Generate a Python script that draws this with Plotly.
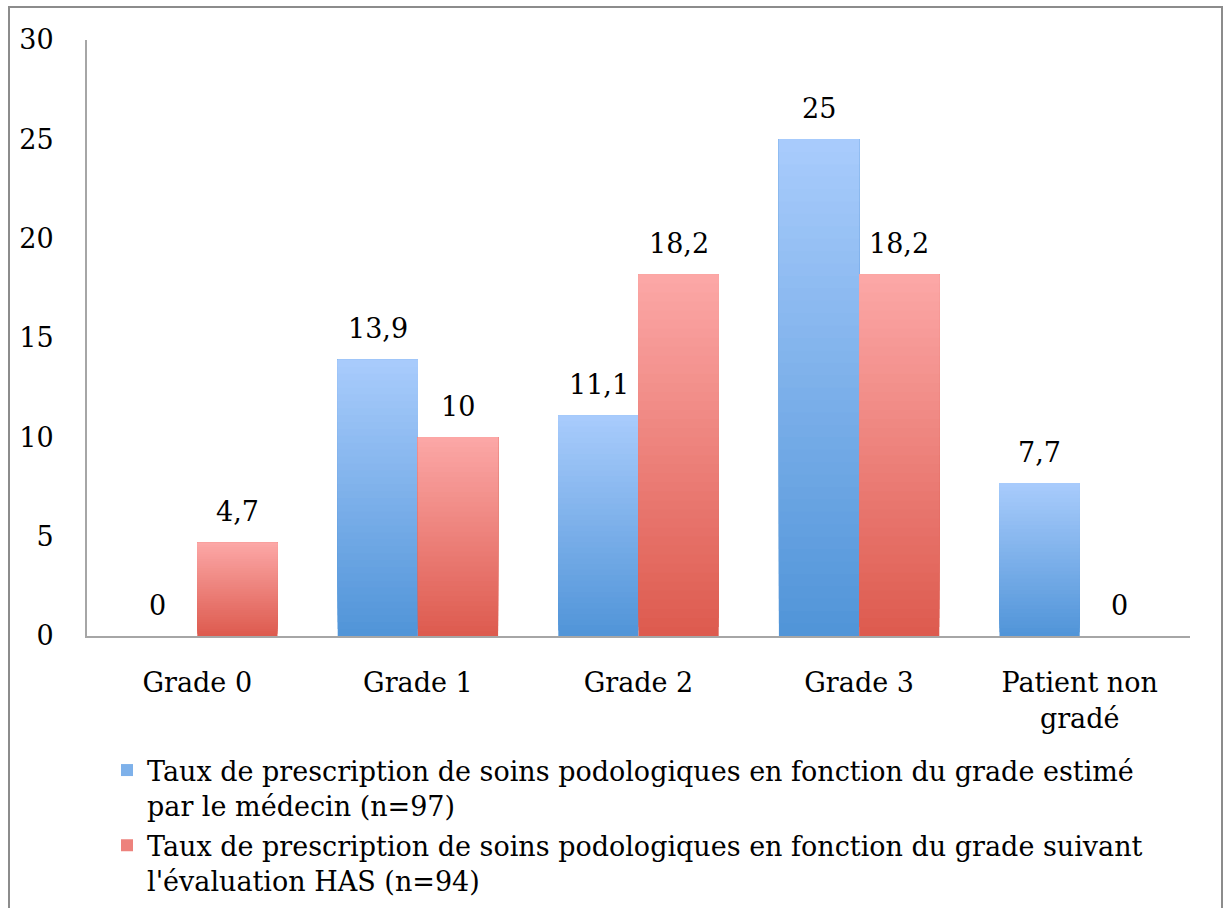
import plotly.graph_objects as go

categories = ["Grade 0", "Grade 1", "Grade 2", "Grade 3", "Patient non<br>gradé"]
medecin = [0, 13.9, 11.1, 25, 7.7]
has = [4.7, 10, 18.2, 18.2, 0]
series_names = [
    "Taux de prescription de soins podologiques en fonction du grade estimé<br>par le médecin (n=97)",
    "Taux de prescription de soins podologiques en fonction du grade suivant<br>l'évaluation HAS (n=94)",
]
y_ticks = [0, 5, 10, 15, 20, 25, 30]

FONT = "DejaVu Serif"
FS = 27
blue_top, blue_bot = (169, 204, 252), (80, 148, 216)
red_top, red_bot = (252, 168, 167), (221, 90, 78)
N = 40


def mix(c0, c1, t):
    return "rgb(%d,%d,%d)" % tuple(round(a + (b - a) * t) for a, b in zip(c0, c1))


def fmt(v):
    return f"{v:g}".replace(".", ",")


fig = go.Figure()
for s, (vals, top, bot, name) in enumerate([
    (medecin, blue_top, blue_bot, series_names[0]),
    (has, red_top, red_bot, series_names[1]),
]):
    for k in range(N):
        t = (k + 0.5) / N
        fig.add_trace(go.Bar(
            x=categories,
            y=[v * (N - k) / N for v in vals],
            base=[v * k / N for v in vals],
            offsetgroup=str(s),
            marker=dict(color=mix(bot, top, t), line=dict(width=0)),
            name=name,
            legendgroup=str(s),
            showlegend=(k == N // 2),
            legendrank=s,
            hoverinfo="skip",
        ))

annotations = []
for vals, shift in [(medecin, -40), (has, 40)]:
    for c, v in zip(categories, vals):
        annotations.append(dict(
            x=c, y=v, xref="x", yref="y", text=fmt(v), showarrow=False,
            xshift=shift, yshift=31, yanchor="middle",
            font=dict(family=FONT, size=FS, color="black"),
        ))

W, H = 1224, 908
L, T = 87, 40
R = W - 1190
B = H - 636
pw, ph = W - L - R, H - T - B
y0_px = 636

fig.update_layout(
    width=W, height=H,
    margin=dict(l=L, r=R, t=T, b=B, autoexpand=False),
    plot_bgcolor="white", paper_bgcolor="white",
    barmode="group", bargap=0.273, bargroupgap=0,
    font=dict(family=FONT, size=FS, color="black"),
    annotations=annotations,
    legend=dict(
        xref="container", yref="container",
        x=107 / W, y=1 - 746 / H,
        xanchor="left", yanchor="top", valign="top",
        orientation="v", tracegroupgap=2, font=dict(family=FONT, size=FS),
        bgcolor="rgba(0,0,0,0)",
    ),
    shapes=[dict(
        type="rect", xref="paper", yref="paper",
        x0=(9 - L) / pw, x1=(1222 - L) / pw,
        y0=(y0_px - 930) / ph, y1=(y0_px - 7) / ph,
        line=dict(color="#8c8c8c", width=2), layer="below",
    )],
)
fig.update_xaxes(
    showline=True, linecolor="#a6a6a6", linewidth=2, showgrid=False,
    ticks="", ticklabelstandoff=22, tickfont=dict(family=FONT, size=FS),
)
fig.update_yaxes(
    range=[0, 30], tickvals=y_ticks, showline=True, linecolor="#a6a6a6",
    linewidth=2, showgrid=False, zeroline=False, ticks="",
    ticklabelstandoff=26, tickfont=dict(family=FONT, size=FS),
)

fig.write_html(
    "out.html",
    config={"displayModeBar": False},
    post_script="document.body.style.margin='0';document.body.style.overflow='hidden';",
)
